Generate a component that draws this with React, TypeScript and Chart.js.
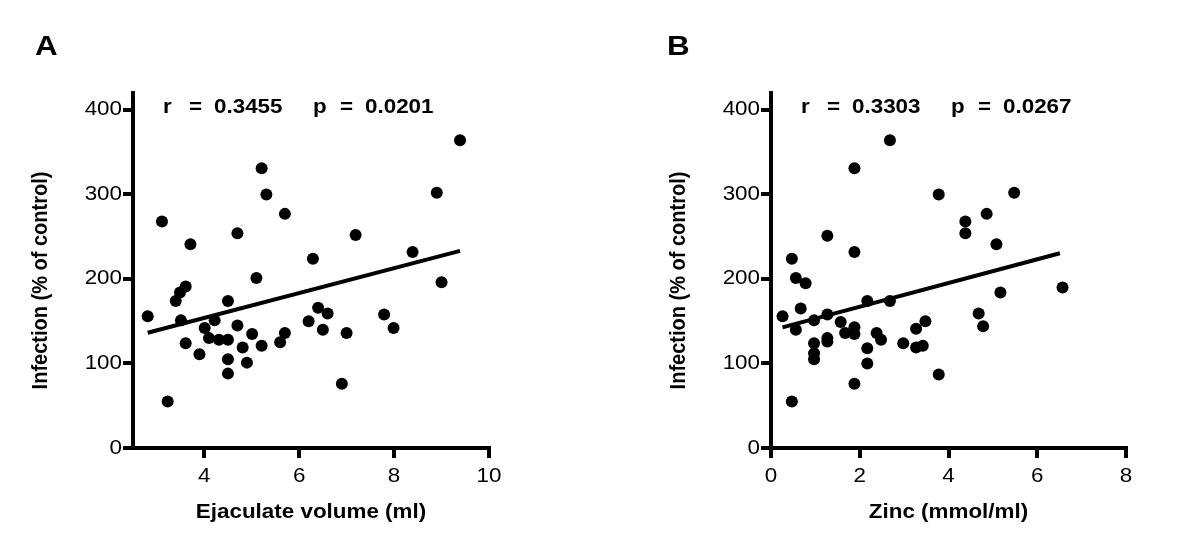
import React, { useEffect, useRef } from "react";
import { Chart, registerables } from "chart.js";

Chart.register(...registerables);

// ---------- data ----------
const volumeX = [2.81, 3.11, 3.23, 3.4, 3.49, 3.61, 3.51, 3.61, 3.71, 3.9, 4.01, 4.1, 4.22, 4.31, 4.5, 4.5, 4.5, 4.5, 4.7, 4.7, 4.81, 4.9, 5.01, 5.1, 5.21, 5.21, 5.31, 5.6, 5.7, 5.7, 6.2, 6.29, 6.4, 6.5, 6.6, 6.9, 7.0, 7.19, 7.79, 7.99, 8.39, 8.9, 9.0, 9.39];
const volumeY = [156, 268, 55, 174, 184, 191, 151, 124, 241, 111, 142, 130, 151, 128, 174, 128, 105, 88, 254, 145, 119, 101, 135, 201, 331, 121, 300, 125, 136, 277, 150, 224, 166, 140, 159, 76, 136, 252, 158, 142, 232, 302, 196, 364];
const volumeFitX = [2.81, 9.39];
const volumeFitY = [136.4, 233.2];

const zincX = [0.26, 0.47, 0.47, 0.56, 0.56, 0.67, 0.78, 0.97, 0.97, 0.97, 0.97, 1.27, 1.27, 1.27, 1.27, 1.57, 1.67, 1.88, 1.88, 1.88, 1.88, 1.88, 2.17, 2.17, 2.17, 2.38, 2.48, 2.68, 2.68, 2.98, 3.27, 3.27, 3.42, 3.48, 3.78, 3.78, 4.38, 4.38, 4.68, 4.78, 4.86, 5.08, 5.17, 5.48, 6.57];
const zincY = [156, 224, 55, 201, 140, 165, 195, 151, 124, 112, 105, 251, 158, 130, 126, 149, 136, 331, 232, 143, 135, 76, 174, 118, 100, 136, 128, 364, 174, 124, 141, 119, 121, 150, 300, 87, 268, 254, 159, 144, 277, 241, 184, 302, 190];
const zincFitX = [0.26, 6.51];
const zincFitY = [142.7, 230.4];

const yTickValues = [0, 100, 200, 300, 400];
const volumeTickValues = [4, 6, 8, 10];
const zincTickValues = [0, 2, 4, 6, 8];

const yAxisTitle = "Infection (% of control)";
const volumeTitle = "Ejaculate volume (ml)";
const zincTitle = "Zinc (mmol/ml)";
const volumeStats = ["r", "=", "0.3455", "p", "=", "0.0201"];
const zincStats = ["r", "=", "0.3303", "p", "=", "0.0267"];

// ---------- drawing helpers ----------
const FAMILY = '"Liberation Sans", Arial, Helvetica, sans-serif';
const SX = 1.12;

function txt(
  ctx: CanvasRenderingContext2D,
  s: string,
  x: number,
  y: number,
  align: CanvasTextAlign,
  baseline: CanvasTextBaseline,
  font: string
) {
  ctx.save();
  ctx.translate(x, y);
  ctx.scale(SX, 1);
  ctx.font = font;
  ctx.textAlign = align;
  ctx.textBaseline = baseline;
  ctx.fillStyle = "#000";
  ctx.fillText(s, 0, 0);
  ctx.restore();
}

type PanelProps = {
  left: number;
  letter: string;
  letterX: number;
  xs: number[];
  ys: number[];
  fitX: number[];
  fitY: number[];
  xMin: number;
  xMax: number;
  xTicks: number[];
  xTitle: string;
  stats: string[];
  padLeft: number;
  padRight: number;
};

function Panel(props: PanelProps) {
  const ref = useRef<HTMLCanvasElement | null>(null);
  useEffect(() => {
    const canvas = ref.current;
    if (!canvas) return;
    const {
      letter, letterX, xs, ys, fitX, fitY, xMin, xMax, xTicks, xTitle, stats, padLeft, padRight,
    } = props;

    const textPlugin = {
      id: "panelText",
      afterDraw(chart: any) {
        const ctx = chart.ctx as CanvasRenderingContext2D;
        const { left, right, top, bottom } = chart.chartArea;
        const xs = chart.scales.x;
        const ys = chart.scales.y;
        const normal = `normal 20px ${FAMILY}`;
        const bold = `bold 20px ${FAMILY}`;
        ys.ticks.forEach((t: any) => {
          txt(ctx, String(t.value), left - 11, ys.getPixelForValue(t.value), "right", "middle", normal);
        });
        xs.ticks.forEach((t: any) => {
          txt(ctx, String(t.value), xs.getPixelForValue(t.value), bottom + 34, "center", "alphabetic", normal);
        });
        // x title
        txt(ctx, xTitle, (left + right) / 2, bottom + 70, "center", "alphabetic", bold);
        // y title
        ctx.save();
        ctx.translate(left - 86, (top + bottom) / 2 + 10);
        ctx.scale(SX, 1);
        ctx.rotate(-Math.PI / 2);
        ctx.font = bold;
        ctx.textAlign = "center";
        ctx.textBaseline = "alphabetic";
        ctx.fillStyle = "#000";
        ctx.fillText(yAxisTitle, 0, 0);
        ctx.restore();
        // panel letter
        txt(ctx, letter, letterX, 55, "left", "alphabetic", `bold 28px ${FAMILY}`);
        // stats annotation
        const offs = [30, 56, 81, 180, 207, 232];
        stats.forEach((s, i) => {
          txt(ctx, s, left + offs[i], top + 20, "left", "alphabetic", bold);
        });
      },
    };

    const axisCommon = {
      grid: {
        display: true,
        drawOnChartArea: false,
        drawTicks: true,
        tickLength: 10,
        tickWidth: 4,
        tickColor: "#000",
        color: "#000",
        lineWidth: 4,
      },
      border: { display: true, color: "#000", width: 4 },
      ticks: { display: false, includeBounds: false },
    };

    const chart = new Chart(canvas, {
      type: "scatter",
      data: {
        datasets: [
          {
            type: "line",
            data: fitX.map((x, i) => ({ x, y: fitY[i] })),
            borderColor: "#000",
            borderWidth: 4,
            pointRadius: 0,
            fill: false,
            tension: 0,
            clip: false,
          } as any,
          {
            type: "scatter",
            data: xs.map((x, i) => ({ x, y: ys[i] })),
            backgroundColor: "#000",
            borderColor: "#000",
            borderWidth: 0,
            pointRadius: 6,
            clip: false,
          } as any,
        ],
      },
      options: {
        animation: false,
        responsive: false,
        devicePixelRatio: 1,
        layout: { padding: { left: padLeft, right: padRight, top: 93, bottom: 94 } },
        plugins: { legend: { display: false }, tooltip: { enabled: false } },
        events: [],
        scales: {
          x: {
            type: "linear",
            position: "bottom",
            min: xMin,
            max: xMax,
            ...axisCommon,
            afterBuildTicks: (s: any) => {
              s.ticks = xTicks.map((v) => ({ value: v }));
            },
            afterFit: (s: any) => {
              s.height = 10;
            },
          },
          y: {
            type: "linear",
            position: "left",
            min: 0,
            max: 420,
            ...axisCommon,
            afterBuildTicks: (s: any) => {
              s.ticks = yTickValues.map((v) => ({ value: v }));
            },
            afterFit: (s: any) => {
              s.width = 10;
            },
          },
        },
      } as any,
      plugins: [textPlugin],
    });
    return () => chart.destroy();
  }, []);

  return (
    <canvas
      ref={ref}
      width={600}
      height={552}
      style={{ position: "absolute", left: props.left, top: 0, width: 600, height: 552 }}
    />
  );
}

export default function App() {
  return (
    <div style={{ position: "absolute", left: 0, top: 0, width: 1200, height: 552, background: "#fff", overflow: "hidden" }}>
      <Panel
        left={0}
        letter="A"
        letterX={35}
        xs={volumeX}
        ys={volumeY}
        fitX={volumeFitX}
        fitY={volumeFitY}
        xMin={2.5}
        xMax={10}
        xTicks={volumeTickValues}
        xTitle={volumeTitle}
        stats={volumeStats}
        padLeft={123}
        padRight={111}
      />
      <Panel
        left={600}
        letter="B"
        letterX={67}
        xs={zincX}
        ys={zincY}
        fitX={zincFitX}
        fitY={zincFitY}
        xMin={0}
        xMax={8}
        xTicks={zincTickValues}
        xTitle={zincTitle}
        stats={zincStats}
        padLeft={161}
        padRight={74}
      />
    </div>
  );
}
